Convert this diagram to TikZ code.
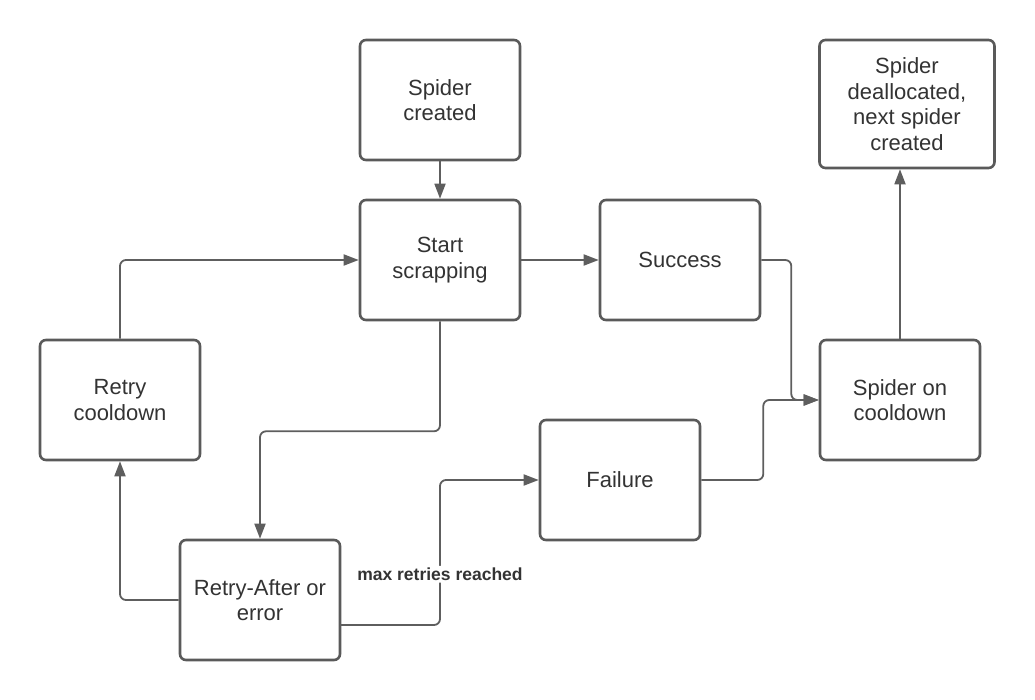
\documentclass[tikz,border=0pt]{standalone}
\usepackage{fontspec}
\setmainfont{Liberation Sans}
\usetikzlibrary{arrows.meta, positioning}
\definecolor{boxline}{HTML}{5A5A5A}
\definecolor{wire}{HTML}{5E5E5E}
\definecolor{ink}{HTML}{333333}
\tikzstyle{state} = [draw=boxline, line width=2.6pt, fill=white, rectangle, rounded corners=6pt,
  minimum width=160pt, minimum height=120pt, align=center, text=ink,
  font=\fontsize{22}{25.5}\selectfont]
\tikzstyle{cond} = [fill=white, inner sep=2pt, text=ink, font=\fontsize{17.5}{20}\selectfont\bfseries]
\tikzstyle{wire} = [draw=wire, line width=1.8pt, rounded corners=6pt]

\begin{document}
\begin{tikzpicture}[x=1pt, y=-1pt, >={Triangle[length=15pt, width=11pt]}]
    \useasboundingbox (0,0) rectangle (1035,700);
    \node [state] (created) at (440,100) {Spider\\created};
    \node [state] (start) at (440,260) {Start\\scrapping};
    \node [state] (success) at (680,260) {Success};
    \node [state, minimum width=175pt, minimum height=128pt] (dealloc) at (907,104)
        {Spider\\deallocated,\\next spider\\created};
    \node [state] (cooldown) at (900,400) {Spider on\\cooldown};
    \node [state] (retrycd) at (120,400) {Retry\\cooldown};
    \node [state] (failure) at (620,480) {Failure};
    \node [state] (retry) at (260,600) {Retry-After or\\error};
    \coordinate (retryout) at (340,625);
    \draw [wire,->] (created) -- (start);
    \draw [wire,->] (start) -- (success);
    \draw [wire,->] (success.east) -- ++(30,0) |- (cooldown.west);
    \draw [wire,->] (failure.east) -- ++(62,0) |- (cooldown.west);
    \draw [wire,->] (cooldown.north) -- (cooldown.north |- dealloc.south);
    \draw [wire,->] (start.south) -- ++(0,110) -| (retry.north);
    \draw [wire,->] (retry.west) -| (retrycd.south);
    \draw [wire,->] (retrycd.north) |- (start.west);
    \draw [wire,->] (retryout) -- ++(100,0)
        -- node [cond, pos=0.35] {max retries reached} ++(0,-145) -- (failure.west);
\end{tikzpicture}
\end{document}
